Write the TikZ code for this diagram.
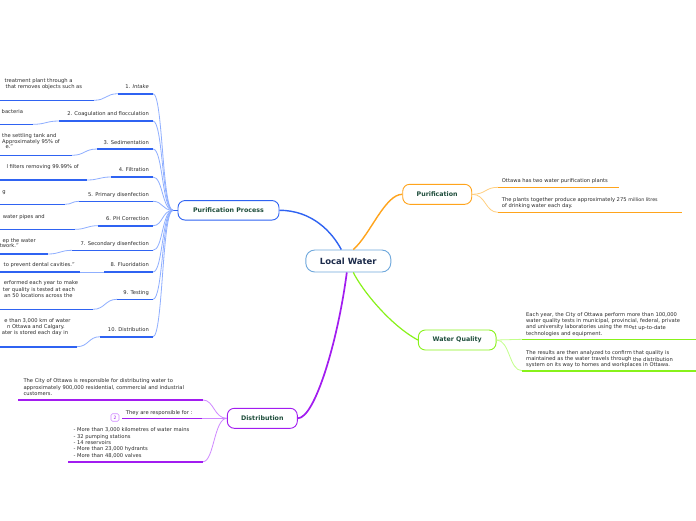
\documentclass[tikz,border=0pt]{standalone}
\usepackage{fontspec}
\setmainfont{DejaVu Sans}
\usetikzlibrary{calc}
\definecolor{bl}{HTML}{2F63F2}
\definecolor{bllight}{HTML}{8FAFFF}
\definecolor{lwc}{HTML}{6FA8DC}
\definecolor{orr}{HTML}{FFA41C}
\definecolor{orlight}{HTML}{FFCF80}
\definecolor{gr}{HTML}{88F21A}
\definecolor{grlight}{HTML}{C2FF8A}
\definecolor{pu}{HTML}{A21CF0}
\definecolor{pulight}{HTML}{D08AFF}
\definecolor{tdark}{HTML}{1E4D3B}
\definecolor{tnavy}{HTML}{1B2A4A}
\definecolor{tgray}{HTML}{2B2B2B}
\tikzset{
  topic/.style={draw, rounded corners=7pt, line width=0.9pt, fill=white,
    font=\fontsize{6.3}{7}\selectfont\bfseries, text=tdark, inner sep=0pt},
  small/.style={font=\fontsize{5.2}{6.4}\selectfont, text=tgray, inner sep=0pt, align=left},
  uline/.style={line width=1.6pt},
  link/.style={line width=0.8pt},
}
\begin{document}
\begin{tikzpicture}[x=1pt,y=-1pt]
\useasboundingbox (0,0) rectangle (696,520);
\clip (0,0) rectangle (696,520);
\fill[white] (0,0) rectangle (696,520);

% main topics
\node[topic, draw=lwc, text=tnavy, font=\fontsize{8.5}{9}\selectfont\bfseries,
  minimum width=85pt, minimum height=22pt, rounded corners=9pt] (lw) at (348.3,261) {Local Water};
\node[topic, draw=bl, minimum width=101pt, minimum height=19.5pt] (pp) at (228.5,210.3) {Purification Process};
\node[topic, draw=orr, minimum width=69pt, minimum height=20pt] (pur) at (437.2,194.3) {Purification};
\node[topic, draw=gr, minimum width=77.7pt, minimum height=20pt] (wq) at (457.2,340) {Water Quality};
\node[topic, draw=pu, minimum width=70pt, minimum height=20pt] (dist) at (262.3,418.3) {Distribution};

% main connectors
\draw[bl, line width=1.4pt] (pp.east) .. controls (312,210.3) and (332,232) .. ($(lw.north)+(-7,0)$);
\draw[orr, line width=1.4pt] ($(lw.north)+(5,0)$) .. controls (370,235) and (385,194.3) .. (pur.west);
\draw[gr, line width=1.2pt] ($(lw.south)+(5,0)$) .. controls (362,290) and (390,325) .. (wq.west);
\draw[pu, line width=1.7pt] ($(lw.south)+(-1.5,0)$) .. controls (338,340) and (315,418.3) .. (dist.east);

% Purification Process children
\coordinate (pjoin) at (173,210.3);
\draw[bl, line width=1.2pt] (pjoin) -- (pp.west);
\foreach \i/\lab/\ly/\uy/\ux/\ty/\tx in {
  1/{1. \textit{Intake}}/86.7/93.7/118/100.3/94,
  2/{2. Coagulation and flocculation}/114.3/121/59/124.3/33,
  3/{3. Sedimentation}/142.7/149/97/155.3/72,
  4/{4. Filtration}/170/177/111/180/87,
  5/{5. Primary disenfection}/195/201.3/79/204.3/65,
  6/{6. PH Correction}/219/225.7/98/229.3/75,
  7/{7. Secondary disenfection}/244.3/250.3/72/254/48,
  8/{8. Fluoridation}/265/272/104/272/80,
  9/{9. Testing}/293.3/299.3/117/309.3/93,
  10/{10. Distribution}/330/336.7/100/346.7/77}{
  \pgfmathsetmacro\mx{(\ux+\tx)/2}
  \node[small, anchor=base east] (lab\i) at (149,\ly+1.5) {\lab};
  \coordinate (ua\i) at (\ux,\uy);
  \coordinate (ub\i) at (153,\uy);
  \coordinate (ta\i) at (0,\ty);
  \coordinate (tb\i) at (\tx,\ty);
  \draw[link, bllight] (tb\i) .. controls (\mx,\ty) and (\mx,\uy) .. (ua\i);
  \draw[link, bllight] (ub\i) .. controls (163,\uy) and (162,210.3) .. (pjoin);
  \draw[uline, bl] (ua\i) -- (ub\i);
  \draw[uline, bl] (ta\i) -- (tb\i);
}
\foreach \t/\x/\y [count=\k] in {
  {treatment plant through a}/72.7/81,
  {that removes objects such as}/82.3/87,
  {bacteria}/23.3/112.5,
  {the settling tank and}/56.7/136,
  {Approximately 95\% of}/60/141.7,
  {e.”}/13.3/147.3,
  {l filters removing 99.99\% of}/79/167.3,
  {g}/6/192.3,
  {water pipes and}/45/216.7,
  {ep the water}/36/241,
  {twork.”}/19/246,
  {to prevent dental cavities.”}/75/265,
  {erformed each year to make}/78.3/283.3,
  {ter quality is tested at each}/75/290,
  {an 50 locations across the}/72.7/296,
  {e than 3,000 km of water}/70.7/321,
  {n Ottawa and Calgary.}/65/326.7,
  {ater is stored each day in}/68.3/333.3}{
  \node[small, anchor=base east] (frag\k) at (\x,\y+1.4) {\t};
}

% Purification children
\coordinate (pa1) at (498,187.3); \coordinate (pb1) at (619,187.3);
\coordinate (pa2) at (498,212.3); \coordinate (pb2) at (682,212.3);
\draw[link, orlight] (pur.east) .. controls (486,194.3) and (485,187.3) .. (pa1);
\draw[link, orlight] (pur.east) .. controls (486,194.3) and (485,212.3) .. (pa2);
\draw[uline, orr] (pa1) -- (pb1);
\draw[uline, orr] (pa2) -- (pb2);
\node[small, anchor=north west] (pt1) at (501.7,178.6) {Ottawa has two water purification plants};
\node[small, anchor=north west] (pt2) at (501.7,196.9) {The plants together produce approximately 275 \raisebox{-0.8pt}{\fontsize{4.8}{6}\selectfont million litres}\\of drinking water each day.};

% Water Quality children
\coordinate (wa1) at (522,339.3); \coordinate (wb1) at (696,339.3);
\coordinate (wa2) at (522,370.7); \coordinate (wb2) at (696,370.7);
\draw[link, grlight] (wq.east) .. controls (510,340) and (509,339.3) .. (wa1);
\draw[link, grlight] (wq.east) .. controls (510,340) and (509,370.7) .. (wa2);
\draw[uline, gr] (wa1) -- (wb1);
\draw[uline, gr] (wa2) -- (wb2);
\node[small, anchor=north west] (wt1) at (526,311.9) {Each year, the City of Ottawa perform m\raisebox{-0.6pt}{ore than 100,000}\\water quality tests in municipal, provincial, federal, private\\and university laboratories using the mo\raisebox{-0.6pt}{st up-to-date}\\technologies and equipment.};
\node[small, anchor=north west] (wt2) at (526,349.9) {The results are then analyzed to confirm that quality is\\maintained as the water travels through \raisebox{-0.6pt}{the distribution}\\system on its way to homes and workplaces in Ottawa.};

% Distribution children
\coordinate (da1) at (18,400); \coordinate (db1) at (203,400);
\coordinate (da2) at (122,418.3); \coordinate (db2) at (202,418.3);
\coordinate (da3) at (68,461.7); \coordinate (db3) at (203,461.7);
\draw[link, pulight] (dist.west) .. controls (214,418.3) and (214,400) .. (db1);
\draw[link, pulight] (dist.west) -- (db2);
\draw[link, pulight] (dist.west) .. controls (214,418.3) and (214,461.7) .. (db3);
\draw[uline, pu] (da1) -- (db1);
\draw[uline, pu] (da2) -- (db2);
\draw[uline, pu] (da3) -- (db3);
\node[small, anchor=north west] (dt1) at (23.3,378.6) {The City of Ottawa is responsible for distributing water to\\approximately 900,000 residential, commercial and industrial\\customers.};
\node[small, anchor=north west] (dt2) at (125.7,409.9) {They are responsible for :};
\node[draw=pulight, line width=0.6pt, rounded corners=1.5pt, fill=white, text=pu,
  font=\fontsize{4.5}{5}\selectfont, minimum width=8pt, minimum height=7.5pt, inner sep=0pt] (badge) at (115,417.5) {2};
\node[small, anchor=north west] (dt3) at (73.3,427.6) {- More than 3,000 kilometres of water mains\\- 32 pumping stations\\- 14 reservoirs\\- More than 23,000 hydrants\\- More than 48,000 valves};
\end{tikzpicture}
\end{document}
